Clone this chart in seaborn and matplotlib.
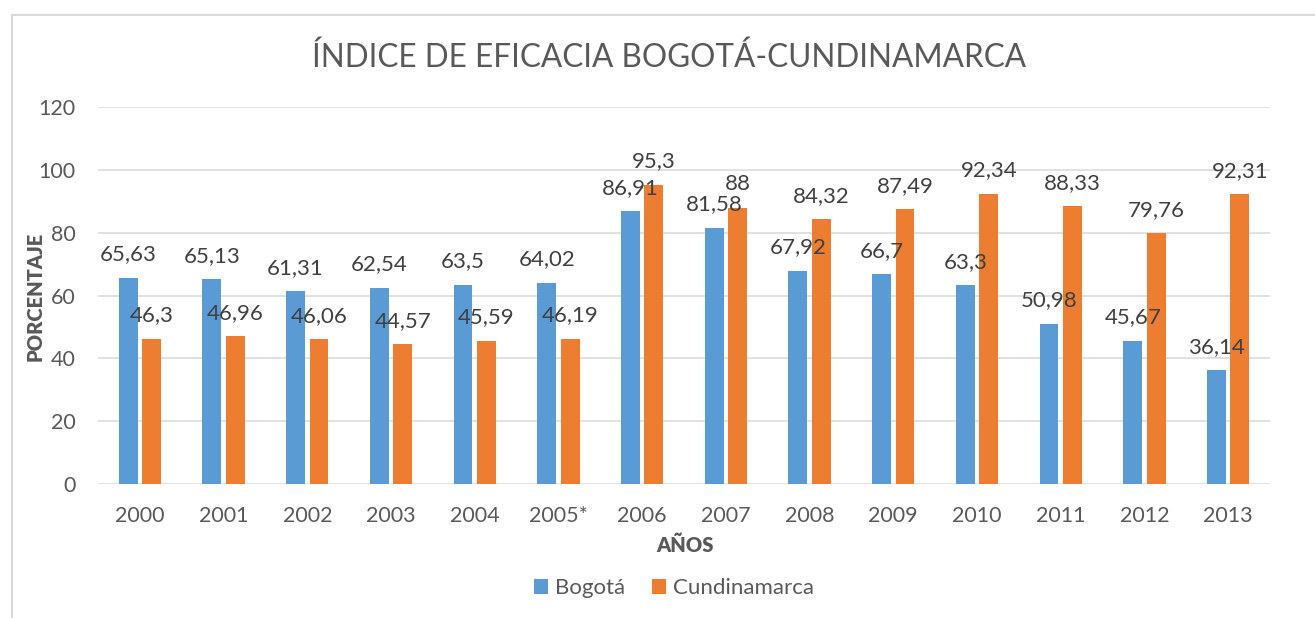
import seaborn as sns
import pandas as pd
import matplotlib.pyplot as plt
from matplotlib.patches import Rectangle

years = ["2000", "2001", "2002", "2003", "2004", "2005*", "2006",
         "2007", "2008", "2009", "2010", "2011", "2012", "2013"]
bogota = [65.63, 65.13, 61.31, 62.54, 63.5, 64.02, 86.91,
          81.58, 67.92, 66.7, 63.3, 50.98, 45.67, 36.14]
cundinamarca = [46.3, 46.96, 46.06, 44.57, 45.59, 46.19, 95.3,
                88, 84.32, 87.49, 92.34, 88.33, 79.76, 92.31]
series = ["Bogotá", "Cundinamarca"]
colors = ["#5B9BD5", "#ED7D31"]

sns.set_style("white")
plt.rcParams['font.family'] = ['Lato', 'DejaVu Sans']
plt.rcParams['font.size'] = 15
GREY = "#595959"

df = pd.DataFrame({
    "year": years * 2,
    "value": bogota + cundinamarca,
    "serie": [series[0]] * len(years) + [series[1]] * len(years),
})

fig = plt.figure(figsize=(13.15, 6.18), dpi=100)
ax = fig.add_axes([98 / 1315, 1 - 484 / 618, 1172 / 1315, 377 / 618])

sns.barplot(data=df, x="year", y="value", hue="serie", order=years,
            hue_order=series, palette=colors, width=0.56, gap=0.2,
            linewidth=0, saturation=1, ax=ax, legend=True)

ax.set_ylim(0, 120)
ax.set_yticks(range(0, 121, 20))
ax.yaxis.grid(True, color="#d9d9d9", linewidth=1.1)
ax.set_axisbelow(True)
sns.despine(ax=ax, left=True, bottom=True)
ax.tick_params(axis="both", length=0, colors=GREY, labelsize=15.5)
ax.tick_params(axis="x", pad=16)
ax.tick_params(axis="y", pad=16)
ax.set_xlabel("")
ax.set_ylabel("")

# data labels, comma decimal
for cont, vals in zip(ax.containers, [bogota, cundinamarca]):
    for bar, v in zip(cont, vals):
        txt = f"{v:g}".replace(".", ",")
        ax.annotate(txt, (bar.get_x() + bar.get_width() / 2, bar.get_height()),
                    xytext=(0, 12.5), textcoords="offset points",
                    ha="center", va="baseline", color="#404040", fontsize=16)

ax.legend(loc="center", bbox_to_anchor=(674 / 1315, 1 - 588 / 618),
          bbox_transform=fig.transFigure, ncol=2, frameon=False,
          handlelength=0.65, handleheight=0.65, handletextpad=0.3,
          columnspacing=1.2, labelcolor=GREY, fontsize=16)

fig.text(669 / 1315, 1 - 58 / 618, "ÍNDICE DE EFICACIA BOGOTÁ-CUNDINAMARCA",
         ha="center", va="center", fontsize=22.7, color=GREY)
fig.text(685 / 1315, 1 - 545 / 618, "AÑOS", ha="center", va="center",
         fontsize=14.5, fontweight="heavy", color=GREY)
fig.text(35 / 1315, 1 - 296 / 618, "PORCENTAJE", ha="center", va="center",
         rotation=90, fontsize=14.5, fontweight="heavy", color=GREY)

# chart area frame (cut by the image edges)
fig.patches.append(Rectangle((12 / 1315, -0.2), 1.2, 1.2 - 15 / 618,
                             transform=fig.transFigure, fill=False,
                             edgecolor="#d9d9d9", linewidth=1.5))

fig.savefig("out.png", dpi=100)
plt.close()
